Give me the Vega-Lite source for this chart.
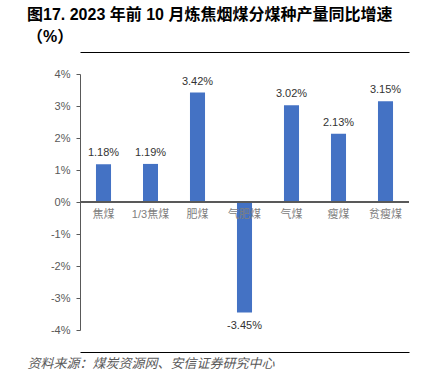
{
  "$schema": "https://vega.github.io/schema/vega-lite/v6.json",
  "width": 329,
  "height": 256,
  "padding": {"left": 27, "top": 7, "right": 6, "bottom": 8},
  "background": "white",
  "config": {
    "view": {"stroke": null},
    "font": "Liberation Sans, Noto Sans CJK SC",
    "locale": {"number": {"decimal": ".", "thousands": ",", "grouping": [3], "currency": ["", ""], "minus": "-", "percent": "%"}}
  },
  "title": {
    "text": ["图17. 2023 年前 10 月炼焦烟煤分煤种产量同比增速", "（%）"],
    "anchor": "start",
    "frame": "group",
    "dx": -53,
    "fontSize": 16,
    "fontWeight": "bold",
    "font": "Liberation Sans, Noto Sans CJK SC",
    "color": "#000000",
    "lineHeight": 22,
    "offset": 7
  },
  "data": {
    "values": [
      {"cat": "焦煤", "v": 0.0118},
      {"cat": "1/3焦煤", "v": 0.0119},
      {"cat": "肥煤", "v": 0.0342},
      {"cat": "气肥煤", "v": -0.0345},
      {"cat": "气煤", "v": 0.0302},
      {"cat": "瘦煤", "v": 0.0213},
      {"cat": "贫瘦煤", "v": 0.0315}
    ]
  },
  "layer": [
    {
      "mark": {"type": "bar", "color": "#4472C4"},
      "encoding": {
        "x": {"field": "cat", "type": "nominal", "sort": null,
          "scale": {"paddingInner": 0.68, "paddingOuter": 0.34},
          "axis": {"orient": "top", "offset": 22, "domainColor": "#000000", "domainWidth": 1, "labels": false, "ticks": false, "title": null}},
        "y": {"field": "v", "type": "quantitative",
          "scale": {"domain": [-0.04, 0.04], "nice": false},
          "axis": {"format": ".0%", "values": [-0.04, -0.03, -0.02, -0.01, 0, 0.01, 0.02, 0.03, 0.04], "tickCount": 9, "grid": false,
            "labelOverlap": false,
            "domainColor": "#595959", "tickColor": "#595959", "tickSize": 4, "labelPadding": 6,
            "labelColor": "#595959", "labelFontSize": 11, "labelFont": "Liberation Sans", "title": null}}
      }
    },
    {
      "mark": {"type": "text", "fontSize": 11, "color": "#808080", "baseline": "middle", "dy": 13},
      "encoding": {
        "x": {"field": "cat", "type": "nominal", "sort": null,
          "axis": {"orient": "bottom", "offset": 22, "domainColor": "#000000", "domainWidth": 1, "labels": false, "ticks": false,
            "title": "资料来源：煤炭资源网、安信证券研究中心", "titleAnchor": "start", "titleAlign": "left", "titleX": -53, "titleY": 11,
            "titleFontSize": 13, "titleFontWeight": "normal", "titleFontStyle": "italic", "titleColor": "#595959", "titleBaseline": "middle",
            "titleFont": "Noto Sans CJK SC"}},
        "y": {"datum": 0, "type": "quantitative"},
        "text": {"field": "cat"}
      }
    },
    {
      "mark": {"type": "rule", "color": "#595959"},
      "encoding": {"y": {"datum": 0, "type": "quantitative"}}
    },
    {
      "transform": [{"filter": "datum.v >= 0"}],
      "mark": {"type": "text", "fontSize": 11, "color": "#333333", "baseline": "bottom", "dy": -6, "font": "Liberation Sans"},
      "encoding": {
        "x": {"field": "cat", "type": "nominal", "sort": null, "axis": null},
        "y": {"field": "v", "type": "quantitative"},
        "text": {"field": "v", "format": ".2%"}
      }
    },
    {
      "transform": [{"filter": "datum.v < 0"}],
      "mark": {"type": "text", "fontSize": 11, "color": "#333333", "baseline": "top", "dy": 8, "font": "Liberation Sans"},
      "encoding": {
        "x": {"field": "cat", "type": "nominal", "sort": null, "axis": null},
        "y": {"field": "v", "type": "quantitative"},
        "text": {"field": "v", "format": ".2%"}
      }
    }
  ],
  "resolve": {"axis": {"x": "independent"}}
}
